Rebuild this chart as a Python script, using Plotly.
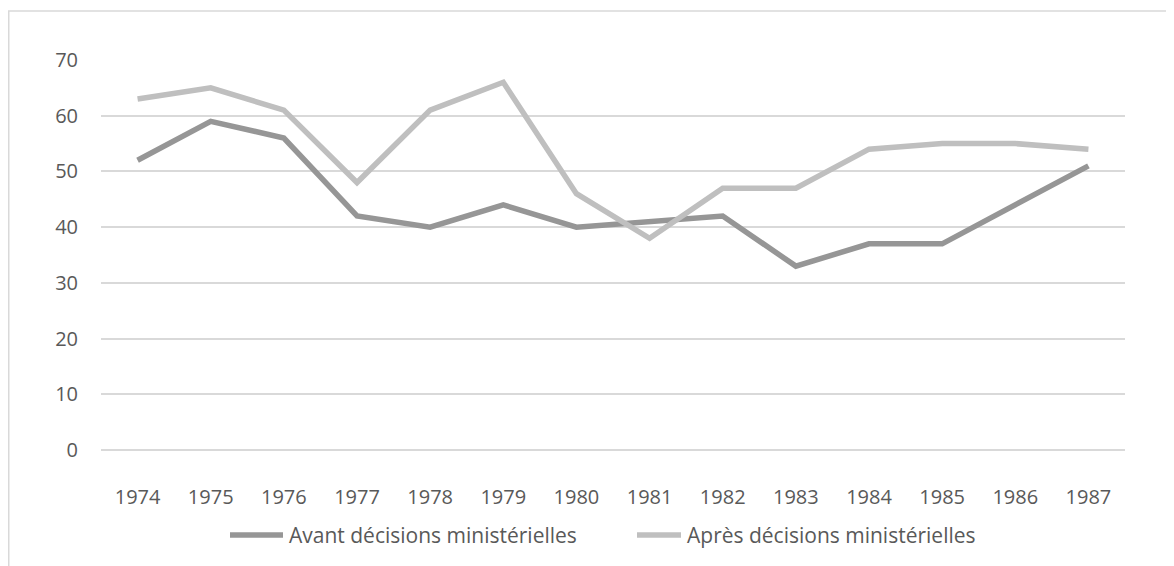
import plotly.graph_objects as go

years = ["1974", "1975", "1976", "1977", "1978", "1979", "1980",
         "1981", "1982", "1983", "1984", "1985", "1986", "1987"]
avant = [52, 59, 56, 42, 40, 44, 40, 41, 42, 33, 37, 37, 44, 51]
apres = [63, 65, 61, 48, 61, 66, 46, 38, 47, 47, 54, 55, 55, 54]
series_names = ["Avant décisions ministérielles", "Après décisions ministérielles"]
series_colors = ["#969696", "#BFBFBF"]
y_ticks = [0, 10, 20, 30, 40, 50, 60, 70]

FONT = "Open Sans, Liberation Sans, sans-serif"
TXT = "#595959"
GRID = "#D9D9D9"

# page has an 8px body margin, so the figure is drawn 8px smaller
W, H = 1166, 558
L, R, T, B = 93, 49, 52, 116
pw, ph = W - L - R, H - T - B

fig = go.Figure()
for vals, name, col in zip([avant, apres], series_names, series_colors):
    fig.add_trace(go.Scatter(x=years, y=vals, mode="lines", name=name,
                             showlegend=False,
                             line=dict(color=col, width=5.5)))


def px_x(p):
    return (p - L) / pw


def px_y(p):
    return (H - B - p) / ph


shapes = [dict(type="rect", xref="paper", yref="paper",
               x0=px_x(0.75), x1=px_x(W + 5), y0=px_y(H + 5), y1=px_y(3),
               line=dict(color=GRID, width=1.5), fillcolor="rgba(0,0,0,0)",
               layer="below")]
annotations = []
legend_lines = [(220, 277), (627, 675)]
leg_y = 527
for (x0, x1), name, col in zip(legend_lines, series_names, series_colors):
    shapes.append(dict(type="line", xref="paper", yref="paper",
                       x0=px_x(x0 + 2), x1=px_x(x1 - 2), y0=px_y(leg_y), y1=px_y(leg_y),
                       line=dict(color=col, width=5.5)))
    annotations.append(dict(xref="paper", yref="paper", x=px_x(x1 + 2), y=px_y(leg_y),
                            xanchor="left", yanchor="middle", showarrow=False,
                            text=name, font=dict(size=21, color=TXT, family=FONT)))

fig.update_layout(
    width=W, height=H,
    margin=dict(l=L, r=R, t=T, b=B),
    paper_bgcolor="white", plot_bgcolor="white",
    font=dict(family=FONT, size=20, color=TXT),
    showlegend=False,
    xaxis=dict(type="category", range=[-0.5, len(years) - 0.5],
               showgrid=False, zeroline=False, showline=False,
               ticks="", ticklabelstandoff=33,
               tickfont=dict(size=20, color=TXT)),
    yaxis=dict(range=[0, 70], tickvals=y_ticks, showgrid=True,
               gridcolor=GRID, gridwidth=1.5, zeroline=True,
               zerolinecolor=GRID, zerolinewidth=1.5, showline=False,
               ticks="", ticklabelstandoff=22,
               tickfont=dict(size=20, color=TXT)),
    shapes=shapes,
    annotations=annotations,
)
fig.write_html("out.html")
